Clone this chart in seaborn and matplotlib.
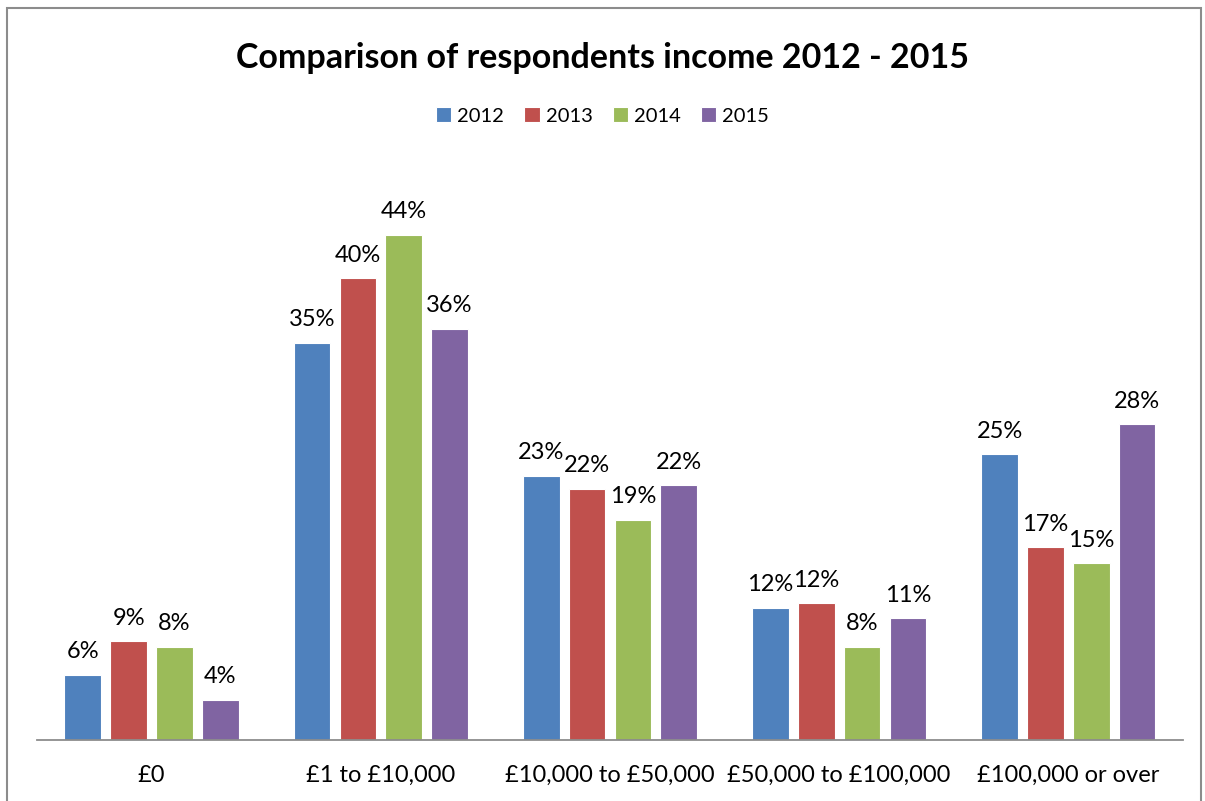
import matplotlib
matplotlib.use("Agg")
import matplotlib.pyplot as plt
from matplotlib.patches import Rectangle
import seaborn as sns
import pandas as pd

# Share of respondents (%) in each income band, by survey year
categories = ["£0", "£1 to £10,000", "£10,000 to £50,000", "£50,000 to £100,000", "£100,000 or over"]
years = ["2012", "2013", "2014", "2015"]
pct_2012 = [5.7, 34.6, 23.0, 11.5, 24.9]
pct_2013 = [8.6, 40.2, 21.9, 11.9, 16.8]
pct_2014 = [8.1, 44.0, 19.2, 8.1, 15.4]
pct_2015 = [3.5, 35.8, 22.2, 10.6, 27.5]
palette = ["#4F81BD", "#C0504D", "#9BBB59", "#8064A2"]

rows = []
for year, values in zip(years, [pct_2012, pct_2013, pct_2014, pct_2015]):
    for cat, v in zip(categories, values):
        rows.append({"income": cat, "year": year, "pct": v})
df = pd.DataFrame(rows)

sns.set_theme(style="white")
plt.rcParams["font.family"] = ["Lato", "DejaVu Sans"]
plt.rcParams["text.color"] = "black"
plt.rcParams["xtick.color"] = "black"

fig = plt.figure(figsize=(12.05, 8.01), dpi=100)
ax = fig.add_axes([0.0307, 0.0762, 0.951, 0.7166])

sns.barplot(data=df, x="income", y="pct", hue="year", hue_order=years,
            palette=palette, width=0.8, gap=0.2, edgecolor="white",
            linewidth=0.8, saturation=1, legend=True, ax=ax)

for container in ax.containers:
    ax.bar_label(container, fmt="%.0f%%", padding=9, fontsize=17, color="black")

ax.set_ylim(0, 50)
ax.set_xlim(-0.5, len(categories) - 0.5)
ax.set_yticks([])
ax.set_xlabel("")
ax.set_ylabel("")
ax.tick_params(axis="x", labelsize=17, pad=18, length=0, colors="black")
for side in ["left", "right", "top"]:
    ax.spines[side].set_visible(False)
ax.spines["bottom"].set_color("#8C8C8C")
ax.spines["bottom"].set_linewidth(1.3)

ax.legend(loc="center", bbox_to_anchor=(0.5, 0.855), bbox_transform=fig.transFigure,
          ncol=4, frameon=False, fontsize=14.5, handlelength=0.75, handleheight=0.75,
          handletextpad=0.3, columnspacing=1.0, labelcolor="black")

fig.suptitle("Comparison of respondents income 2012 - 2015", y=0.948,
             fontsize=24.5, fontweight="bold", color="black")

# outer chart frame
fig.patches.append(Rectangle((7, -5), 1194, 798, transform=None, fill=False,
                             edgecolor="#8C8C8C", linewidth=1.5))

fig.savefig("out.png", dpi=100)
